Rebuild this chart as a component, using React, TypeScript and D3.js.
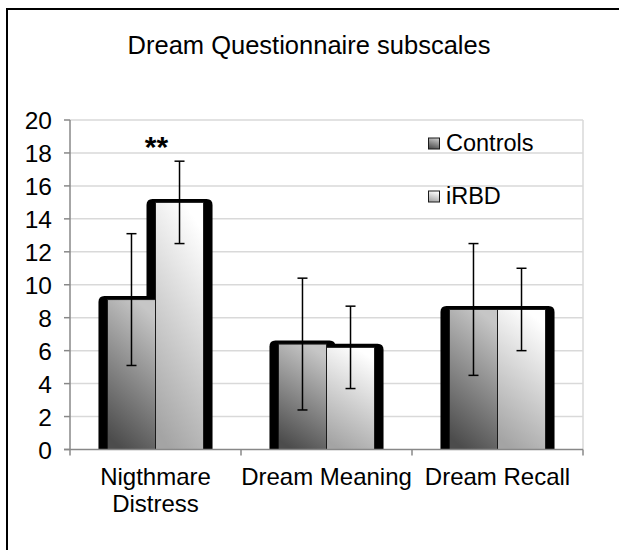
import React from 'react';
import { scaleBand, scaleLinear, select } from 'd3';

// values (mean +/- sd)
const categories = ['Nigthmare Distress', 'Dream Meaning', 'Dream Recall'];
const categoryLines = [['Nigthmare', 'Distress'], ['Dream Meaning'], ['Dream Recall']];
const series = ['Controls', 'iRBD'];
const controlsMean = [9.1, 6.4, 8.5];
const controlsSd = [4.0, 4.0, 4.0];
const irbdMean = [15.0, 6.2, 8.5];
const irbdSd = [2.5, 2.5, 2.5];
const yTicks = [0, 2, 4, 6, 8, 10, 12, 14, 16, 18, 20];
const significance = ['**', '', ''];

const width = 619;
const height = 550;
const font = 'Arial, "Liberation Sans", sans-serif';

// rect with only the top corners rounded
const topRounded = (x: number, y: number, w: number, h: number, r: number) =>
    `M${x},${y + h}V${y + r}Q${x},${y} ${x + r},${y}H${x + w - r}Q${x + w},${y} ${x + w},${y + r}V${y + h}Z`;

const App = () => {
    const svgRef = React.useRef<SVGSVGElement>(null);

    React.useEffect(() => {
        const svg = select(svgRef.current);
        svg.selectAll('*').remove();

        const y = scaleLinear().domain([0, 20]).range([449.5, 120]);
        const x0 = scaleBand().domain(categories).range([70, 583]);
        const x1 = scaleBand().domain(series).range([0, x0.bandwidth()]).paddingOuter(0.78);
        const bw = x1.bandwidth();

        const defs = svg.append('defs');
        const gradC = defs.append('linearGradient').attr('id', 'gradControls')
            .attr('x1', 0.6).attr('y1', 0).attr('x2', 0.3).attr('y2', 1);
        gradC.append('stop').attr('offset', 0).attr('stop-color', '#c6c6c6');
        gradC.append('stop').attr('offset', 1).attr('stop-color', '#4c4c4c');
        const gradI = defs.append('linearGradient').attr('id', 'gradIrbd')
            .attr('x1', 0.6).attr('y1', 0).attr('x2', 0.3).attr('y2', 1);
        gradI.append('stop').attr('offset', 0).attr('stop-color', '#ffffff');
        gradI.append('stop').attr('offset', 1).attr('stop-color', '#a4a4a4');
        const fills = ['url(#gradControls)', 'url(#gradIrbd)'];

        // outer frame
        svg.append('rect')
            .attr('x', 7).attr('y', 9).attr('width', 800).attr('height', 800)
            .attr('fill', 'none').attr('stroke', '#000').attr('stroke-width', 2);

        // title
        svg.append('text')
            .attr('x', 309).attr('y', 53.5)
            .attr('text-anchor', 'middle')
            .attr('font-family', font).attr('font-size', 25.5)
            .text('Dream Questionnaire subscales');

        // gridlines
        svg.append('g').selectAll('line').data(yTicks.filter((t) => t > 0)).join('line')
            .attr('x1', 70).attr('x2', 583)
            .attr('y1', (d) => y(d)).attr('y2', (d) => y(d))
            .attr('stroke', '#d9d9d9').attr('stroke-width', 1.5);
        svg.append('line')
            .attr('x1', 583).attr('x2', 583).attr('y1', y(20)).attr('y2', y(0))
            .attr('stroke', '#d9d9d9').attr('stroke-width', 1.5);

        // bars
        const means = [controlsMean, irbdMean];
        const sds = [controlsSd, irbdSd];
        categories.forEach((c, i) => {
            const g = svg.append('g');
            series.forEach((s, j) => {
                const v = means[j][i];
                const bx = (x0(c) as number) + (x1(s) as number);
                g.append('path')
                    .attr('d', topRounded(bx - 9, y(v) - 3.5, bw + 18, y(0) - y(v) + 3.5, 6))
                    .attr('fill', '#000');
            });
            series.forEach((s, j) => {
                const v = means[j][i];
                const bx = (x0(c) as number) + (x1(s) as number);
                g.append('rect')
                    .attr('x', bx).attr('y', y(v))
                    .attr('width', bw).attr('height', y(0) - y(v))
                    .attr('fill', fills[j])
                    .attr('stroke', '#1a1a1a').attr('stroke-width', 1);
            });
            series.forEach((s, j) => {
                const v = means[j][i];
                const sd = sds[j][i];
                const cx = (x0(c) as number) + (x1(s) as number) + bw / 2;
                g.append('line')
                    .attr('x1', cx).attr('x2', cx)
                    .attr('y1', y(v + sd)).attr('y2', y(v - sd))
                    .attr('stroke', '#000').attr('stroke-width', 1.5);
                [v + sd, v - sd].forEach((e) => {
                    g.append('line')
                        .attr('x1', cx - 5).attr('x2', cx + 5)
                        .attr('y1', y(e)).attr('y2', y(e))
                        .attr('stroke', '#000').attr('stroke-width', 1.5);
                });
            });
            if (significance[i]) {
                g.append('text')
                    .attr('x', (x0(c) as number) + x0.bandwidth() / 2 + 1).attr('y', 157)
                    .attr('text-anchor', 'middle')
                    .attr('font-family', font).attr('font-size', 30).attr('font-weight', 'bold')
                    .text(significance[i]);
            }
        });

        // y axis
        const yAxis = svg.append('g');
        yAxis.append('line')
            .attr('x1', 70).attr('x2', 70).attr('y1', y(20)).attr('y2', y(0))
            .attr('stroke', '#888').attr('stroke-width', 1.5);
        yAxis.selectAll('.tick').data(yTicks).join('line')
            .attr('class', 'tick')
            .attr('x1', 64).attr('x2', 70)
            .attr('y1', (d) => y(d)).attr('y2', (d) => y(d))
            .attr('stroke', '#888').attr('stroke-width', 1.5);
        yAxis.selectAll('text').data(yTicks).join('text')
            .attr('x', 52).attr('y', (d) => y(d) + 9)
            .attr('text-anchor', 'end')
            .attr('font-family', font).attr('font-size', 24.5)
            .text((d) => d);

        // x axis
        const xAxis = svg.append('g');
        xAxis.append('line')
            .attr('x1', 64).attr('x2', 583).attr('y1', y(0)).attr('y2', y(0))
            .attr('stroke', '#888').attr('stroke-width', 1.5);
        const edges = [...categories.map((c) => x0(c) as number), 583];
        xAxis.selectAll('.tick').data(edges).join('line')
            .attr('class', 'tick')
            .attr('x1', (d) => d).attr('x2', (d) => d)
            .attr('y1', y(0)).attr('y2', y(0) + 6)
            .attr('stroke', '#888').attr('stroke-width', 1.5);
        categories.forEach((c, i) => {
            const t = xAxis.append('text')
                .attr('text-anchor', 'middle')
                .attr('font-family', font).attr('font-size', 24);
            categoryLines[i].forEach((ln, k) => {
                t.append('tspan')
                    .attr('x', (x0(c) as number) + x0.bandwidth() / 2)
                    .attr('y', 485 + k * 26.7)
                    .text(ln);
            });
        });

        // legend
        const legendY = [138, 191];
        series.forEach((s, j) => {
            svg.append('rect')
                .attr('x', 428.5).attr('y', legendY[j])
                .attr('width', 11).attr('height', 11)
                .attr('fill', fills[j]).attr('stroke', '#1a1a1a').attr('stroke-width', 1);
            svg.append('text')
                .attr('x', 446).attr('y', legendY[j] + 12.5)
                .attr('font-family', font).attr('font-size', 23.5)
                .text(s);
        });
    }, []);

    return (
        <div>
            <svg
                ref={svgRef}
                width={width}
                height={height}
                style={{ position: 'absolute', left: 0, top: 0, background: '#fff' }}
            />
        </div>
    );
};

export default App;
